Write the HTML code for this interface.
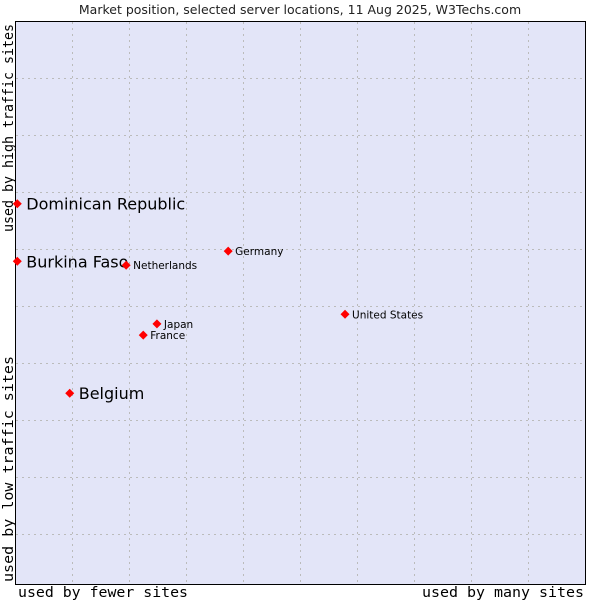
<!DOCTYPE html>
<html><head><meta charset="utf-8"><style>
body{margin:0;background:#fff;width:600px;height:600px;overflow:hidden}
svg{display:block}
</style></head><body>
<svg id="chart" width="600" height="600" xmlns="http://www.w3.org/2000/svg">
<text x="300" y="14" text-anchor="middle" font-family="DejaVu Sans, sans-serif" font-size="12.5" fill="#222">Market position, selected server locations, 11 Aug 2025, W3Techs.com</text>
<rect x="15.5" y="21.5" width="570" height="563" fill="#e3e5f8" stroke="#000" stroke-width="1"/>
<g id="grid"></g>
<text x="18" y="597" textLength="170" lengthAdjust="spacingAndGlyphs" font-family="DejaVu Sans Mono, monospace" font-size="14.5" fill="#000">used by fewer sites</text>
<text x="584" y="597" text-anchor="end" textLength="162" lengthAdjust="spacingAndGlyphs" font-family="DejaVu Sans Mono, monospace" font-size="14.5" fill="#000">used by many sites</text>
<text transform="translate(13,232) rotate(-90)" textLength="208" lengthAdjust="spacingAndGlyphs" font-family="DejaVu Sans Mono, monospace" font-size="14.5" fill="#000">used by high traffic sites</text>
<text transform="translate(13,582) rotate(-90)" textLength="226" lengthAdjust="spacingAndGlyphs" font-family="DejaVu Sans Mono, monospace" font-size="14.5" fill="#000">used by low traffic sites</text>
<g id="points"></g>
</svg>
<script>
const names = ["Dominican Republic","Burkina Faso","Netherlands","Germany","United States","Japan","France","Belgium"];
const xVals = [0.4,0.4,19.5,37.4,57.9,24.9,22.5,9.6];
const yVals = [67.6,57.4,56.7,59.2,48.0,46.3,44.3,34.0];
const big = [true,true,false,false,false,false,false,true];
const NS="http://www.w3.org/2000/svg";
const X0=15,X1=585,Y0=585,Y1=21;
function sx(v){return X0+(X1-X0)*v/100;}
function sy(v){return Y0-(Y0-Y1)*v/100;}
const grid=document.getElementById('grid');
for(let i=1;i<10;i++){
  const x=Math.round(X0+57*i)+0.5;
  const l=document.createElementNS(NS,'line');
  l.setAttribute('x1',x);l.setAttribute('x2',x);l.setAttribute('y1',22);l.setAttribute('y2',584);
  l.setAttribute('stroke','#bbbbbb');l.setAttribute('stroke-dasharray','2,4');
  
  
  grid.appendChild(l);
  const y=Math.round(Y1+57*i)+0.5;
  const h=document.createElementNS(NS,'line');
  h.setAttribute('x1',16);h.setAttribute('x2',585);h.setAttribute('y1',y);h.setAttribute('y2',y);
  h.setAttribute('stroke','#bbbbbb');h.setAttribute('stroke-dasharray','2,4');
  
  
  grid.appendChild(h);
}
const pts=document.getElementById('points');
names.forEach((n,i)=>{
  const x=sx(xVals[i]),y=sy(yVals[i]);
  const d=document.createElementNS(NS,'path');
  d.setAttribute('d',`M${x} ${y-4.5}L${x+4.5} ${y}L${x} ${y+4.5}L${x-4.5} ${y}Z`);
  d.setAttribute('fill','#f00');
  
  
  pts.appendChild(d);
  const t=document.createElementNS(NS,'text');
  t.setAttribute('x',x+(big[i]?9:7));
  t.setAttribute('y',y+(big[i]?6:4));
  t.setAttribute('font-family','DejaVu Sans, sans-serif');
  t.setAttribute('font-size',big[i]?'16':'10.5');
  t.setAttribute('fill','#000');
  t.textContent=n;
  
  
  pts.appendChild(t);
});
</script>
</body></html>
